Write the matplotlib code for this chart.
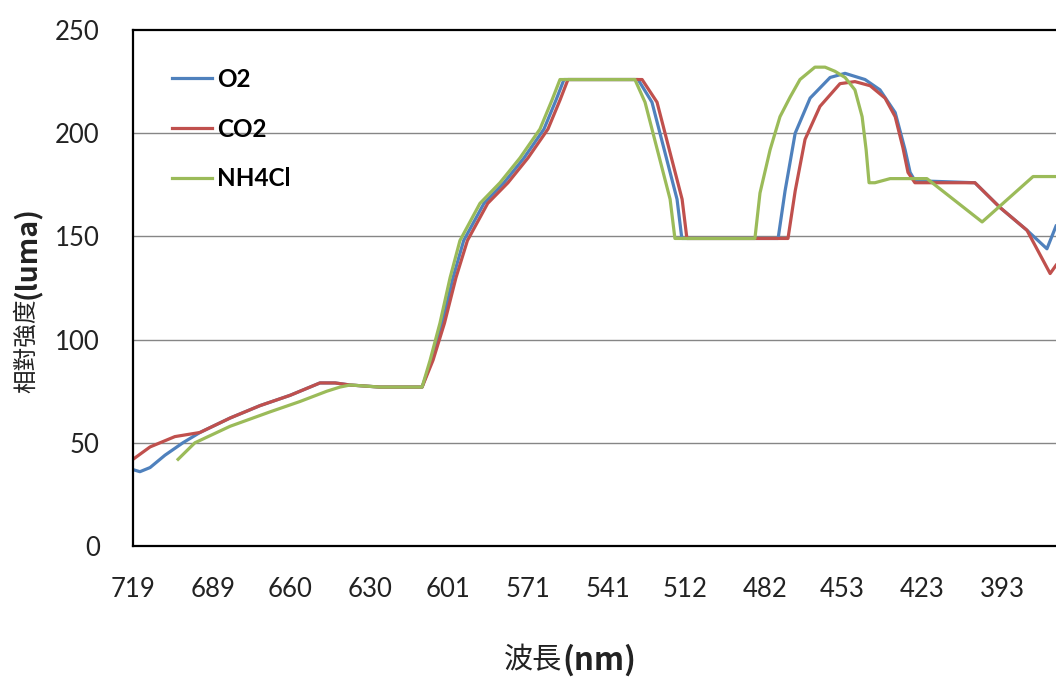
import matplotlib
matplotlib.use("Agg")
import matplotlib.pyplot as plt

# wavelength (nm) / relative intensity (luma)
o2_wl = [719, 716.4, 712.6, 707.0, 700.3, 693.9, 682.6, 671.4, 660.1, 648.9, 643.2, 637.6, 626.4,
         610.6, 607.0, 603.0, 599.0, 595.0, 587.4, 579.9, 572.4, 564.9, 560.4, 557.4,
         529.6, 524.4, 521.4, 518.0, 515.0, 513.2,
         477.1, 474.5, 470.7, 465.1, 457.6, 452.0, 444.5, 438.9, 433.2, 429.5, 427.6, 425.8,
         403.3, 393.9, 383.8, 376.3, 372.9]
o2_val = [37, 36, 38, 44, 50, 55, 62, 68, 73, 79, 79, 78, 77,
          77, 90, 108, 130, 148, 166, 176, 188, 202, 216, 226,
          226, 215, 200, 183, 168, 149,
          149, 172, 200, 217, 227, 229, 226, 221, 210, 192, 181, 177,
          176, 164, 153, 144, 155]

co2_wl = [719, 712.6, 703.3, 693.9, 682.6, 671.4, 660.1, 648.9, 643.2, 637.6, 626.4,
          610.6, 606.5, 602.2, 597.9, 593.6, 586.0, 578.4, 570.9, 563.4, 558.9, 555.9,
          528.1, 522.5, 519.5, 516.1, 513.1, 511.3,
          473.4, 470.7, 467.0, 461.4, 453.9, 448.3, 442.6, 437.0, 433.2, 430.3, 428.4, 425.8,
          403.3, 393.9, 383.8, 375.1, 372.9]
co2_val = [42, 48, 53, 55, 62, 68, 73, 79, 79, 78, 77,
           77, 90, 108, 130, 148, 166, 176, 188, 202, 216, 226,
           226, 215, 200, 183, 168, 149,
           149, 172, 197, 213, 224, 225, 223, 217, 208, 193, 181, 176,
           176, 164, 153, 132, 136]

nh4cl_wl = [702.1, 695.8, 682.6, 667.6, 656.4, 646.3, 641.4, 637.6, 626.4,
            610.6, 607.6, 603.9, 600.1, 596.4, 588.9, 581.4, 573.9, 566.4, 561.9, 558.9,
            530.8, 527.0, 524.0, 520.6, 517.6, 515.8,
            485.8, 483.9, 480.1, 476.4, 472.6, 468.9, 463.3, 459.5, 455.8, 452.0, 448.3,
            445.6, 444.1, 443.0, 440.8, 435.1, 421.3, 400.6, 381.5, 372.9]
nh4cl_val = [42, 50, 58, 65, 70, 75, 77, 78, 77,
             77, 90, 108, 130, 148, 166, 176, 188, 202, 216, 226,
             226, 215, 200, 183, 168, 149,
             149, 171, 192, 208, 217.5, 226, 232, 232, 230, 227, 221,
             208, 192, 176, 176, 178, 178, 157, 179, 179]

xticks = [719, 689, 660, 630, 601, 571, 541, 512, 482, 453, 423, 393]
yticks = [0, 50, 100, 150, 200, 250]

cjk = ['Noto Sans CJK TC', 'DejaVu Sans']
W, H = 1056, 678

fig = plt.figure(figsize=(W / 100, H / 100), dpi=100)
ax = fig.add_axes([133 / W, 1 - 546 / H, 1 - 133 / W, 516 / H])

ax.plot(o2_wl, o2_val, color='#4F81BD', lw=2.3, label='O2')
ax.plot(co2_wl, co2_val, color='#C0504D', lw=2.3, label='CO2')
ax.plot(nh4cl_wl, nh4cl_val, color='#9BBB59', lw=2.3, label='NH4Cl')

ax.set_xlim(719, 372.9)
ax.set_ylim(0, 250)
ax.set_xticks(xticks)
ax.set_yticks(yticks)
ax.tick_params(length=0, labelsize=18.5, colors='#222222')
ax.tick_params(axis='x', pad=22)
ax.tick_params(axis='y', pad=24)
for lab in ax.get_xticklabels() + ax.get_yticklabels():
    lab.set_family('Lato')

for y in yticks[1:-1]:
    ax.axhline(y, color='#868686', lw=1, zorder=0)
for s in ['left', 'bottom', 'top']:
    ax.spines[s].set_linewidth(1.6)
    ax.spines[s].set_color('black')
ax.spines['right'].set_visible(False)

leg = ax.legend(loc='upper left', bbox_to_anchor=(172 / W, 1 - 68 / H),
                bbox_transform=fig.transFigure, frameon=False, borderpad=0,
                borderaxespad=0, handlelength=1.65, handletextpad=0.2,
                labelspacing=1.1, prop={'family': 'Lato', 'weight': 'bold', 'size': 17.5})

# axis titles: CJK part regular, latin part bold
fig.text(27 / W, 1 - 393 / H, '相對強度', rotation=90, ha='center', va='bottom',
         family=cjk, fontsize=17, color='#222222')
fig.text(27 / W, 1 - 299 / H, '(luma)', rotation=90, ha='center', va='bottom',
         family=cjk, fontsize=20.5, fontweight='bold', color='#222222')
fig.text(562 / W, 1 - 660 / H, '波長', ha='right', va='center',
         family=cjk, fontsize=21, color='#222222')
fig.text(562 / W, 1 - 660 / H, '(nm)', ha='left', va='center',
         family=cjk, fontsize=22.5, fontweight='bold', color='#222222')

fig.savefig('out.png', dpi=100)
